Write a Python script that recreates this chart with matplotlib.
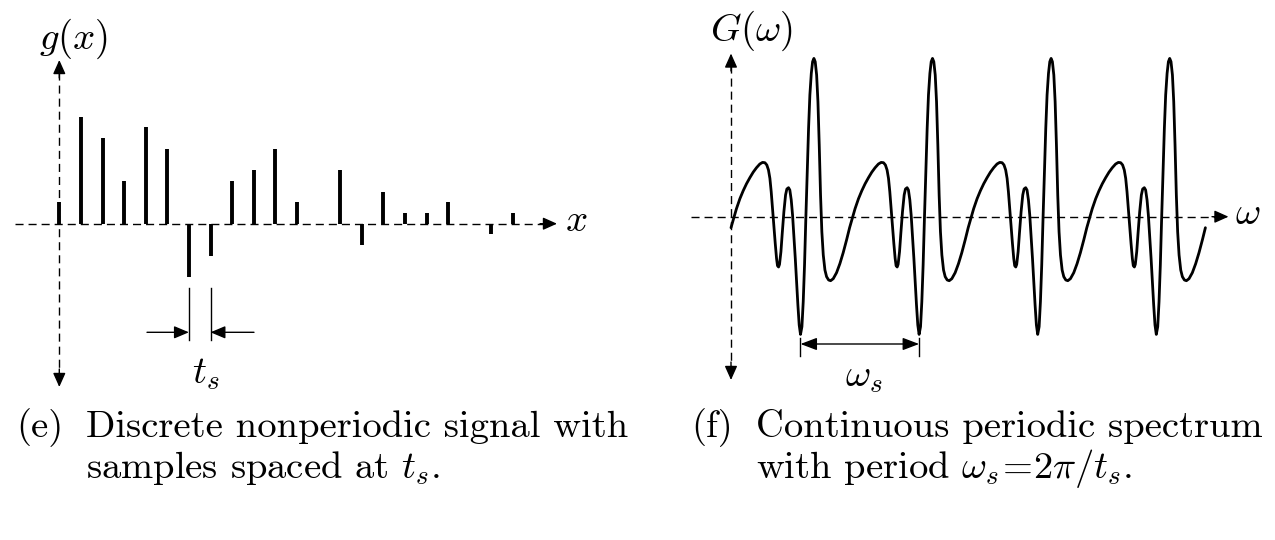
import numpy as np
import matplotlib
matplotlib.use("Agg")
import matplotlib.pyplot as plt

plt.rcParams['mathtext.fontset'] = 'cm'
plt.rcParams['lines.scale_dashes'] = False

# ---------------- data ----------------
# (e) discrete samples g[n] (sample index, amplitude)
sample_index = list(range(22))
sample_values = [2, 10, 8, 4, 9, 7, -5, -3, 4, 5, 7, 2, 0, 5, -2, 3, 1, 1, 2, 0, -1, 1]

# (f) one period of the continuous periodic spectrum, omega in units of omega_s
period_phase = [0.000, 0.032, 0.046, 0.075, 0.103, 0.131, 0.159, 0.187, 0.215, 0.243,
                0.266, 0.286, 0.302, 0.316, 0.328, 0.339, 0.350, 0.361, 0.373, 0.384,
                0.392, 0.401, 0.409, 0.421, 0.432, 0.446, 0.460, 0.471, 0.485, 0.496,
                0.508, 0.519, 0.530, 0.542, 0.553, 0.564, 0.575, 0.586, 0.598, 0.609,
                0.620, 0.631, 0.643, 0.654, 0.665, 0.677, 0.688, 0.699, 0.710, 0.722,
                0.733, 0.744, 0.755, 0.766, 0.778, 0.792, 0.806, 0.823, 0.840, 0.862,
                0.890, 0.918, 0.946, 0.975]
period_values = [-1.1, 0.2, 0.8, 1.8, 2.6, 3.3, 3.9, 4.45, 4.9, 5.27,
                 5.43, 5.4, 5.17, 4.67, 3.83, 2.5, 0.83, -0.83, -2.67, -4.17,
                 -4.9, -5.03, -4.77, -3.5, -1.67, 0.5, 2.17, 2.77, 2.9, 2.67,
                 1.67, 0.17, -1.83, -4.17, -6.5, -8.83, -10.83, -11.77, -11.0, -8.5,
                 -4.83, -0.17, 4.5, 8.83, 12.17, 14.33, 15.5, 15.83, 15.5, 14.17,
                 11.5, 7.17, 2.17, -1.5, -3.83, -5.33, -6.0, -6.33, -6.4, -6.2,
                 -5.6, -4.7, -3.6, -2.3]
n_periods = 4

caption_e = ["Discrete nonperiodic signal with", "samples spaced at $t_s$."]
caption_f = ["Continuous periodic spectrum", r"with period $\omega_s\!=\!2\pi/t_s$."]

# ---------------- figure ----------------
W, H = 1275, 540
fig = plt.figure(figsize=(W / 100, H / 100), dpi=100)

def fx(px):
    return px / W

def fy(py):
    return 1 - py / H

DASH = (0, (5.8, 3.6))
FS = 28
FSC = 27.8

# left axes: pixel box x 0..640, y 0..400
axL = fig.add_axes([0, fy(400), fx(640), 400 / H])
L0x, Ldx, L0y, Ldy = 59.3, 21.6, 223.7, 10.7
def Lx(px): return (px - L0x) / Ldx
def Ly(py): return (L0y - py) / Ldy
axL.set_xlim(Lx(0), Lx(640))
axL.set_ylim(Ly(400), Ly(0))
axL.axis('off')

# right axes: pixel box x 660..1275, y 0..400
axR = fig.add_axes([fx(660), fy(400), fx(615), 400 / H])
R0x, Rdx, R0y, Rdy = 731.0, 118.6, 216.7, 10.0
def Rx(px): return (px - R0x) / Rdx
def Ry(py): return (R0y - py) / Rdy
axR.set_xlim(Rx(660), Rx(1275))
axR.set_ylim(Ry(400), Ry(0))
axR.axis('off')


def head(ax, tip, tail, hl=8.5, hw=3.8):
    ax.annotate('', xy=tip, xytext=tail,
                arrowprops=dict(arrowstyle=f'-|>,head_length={hl},head_width={hw}',
                                mutation_scale=1, lw=1.0, color='k',
                                shrinkA=0, shrinkB=0))


# ---- left panel axes ----
axL.plot([Lx(15), Lx(546)], [0, 0], color='k', lw=1.0, ls=DASH)
head(axL, (Lx(557), 0), (Lx(540), 0))
axL.plot([0, 0], [Ly(72), Ly(378)], color='k', lw=1.0, ls=DASH)
head(axL, (0, Ly(60)), (0, Ly(78)))
head(axL, (0, Ly(387)), (0, Ly(369)))

axL.vlines(sample_index, 0, sample_values, colors='k', lw=2.8)

# t_s marker
for k in (6, 7):
    axL.plot([k, k], [Ly(288), Ly(340)], color='k', lw=1.0)
axL.annotate('', xy=(6, Ly(332.3)), xytext=(Lx(147), Ly(332.3)),
             arrowprops=dict(arrowstyle='-|>,head_length=9,head_width=3.8',
                             mutation_scale=1, lw=1.0, color='k', shrinkA=0, shrinkB=0))
axL.annotate('', xy=(7, Ly(332.3)), xytext=(Lx(254), Ly(332.3)),
             arrowprops=dict(arrowstyle='-|>,head_length=9,head_width=3.8',
                             mutation_scale=1, lw=1.0, color='k', shrinkA=0, shrinkB=0))

fig.text(fx(74), fy(49), '$g(x)$', fontsize=FS, ha='center', va='baseline')
fig.text(fx(576), fy(231), '$x$', fontsize=FS, ha='center', va='baseline')
fig.text(fx(206), fy(383), '$t_s$', fontsize=FS, ha='center', va='baseline')

# ---- right panel ----
axR.plot([Rx(691), Rx(1217)], [0, 0], color='k', lw=1.0, ls=DASH)
head(axR, (Rx(1228.5), 0), (Rx(1212), 0))
axR.plot([0, 0], [Ry(65), Ry(371)], color='k', lw=1.0, ls=DASH)
head(axR, (0, Ry(53.5)), (0, Ry(71)))
head(axR, (0, Ry(380)), (0, Ry(362)))

omega = np.concatenate([np.array(period_phase) + k for k in range(n_periods)] + [[n_periods]])
G = np.concatenate([np.array(period_values)] * n_periods + [[period_values[0]]])
axR.plot(omega, G, color='k', lw=2.0, solid_joinstyle='round', solid_capstyle='round')

# omega_s marker
deep_min = period_phase[int(np.argmin(period_values))]
for k in (deep_min, deep_min + 1):
    axR.plot([k, k], [Ry(338.3), Ry(356)], color='k', lw=1.0)
axR.annotate('', xy=(deep_min + 1, Ry(344)), xytext=(deep_min, Ry(344)),
             arrowprops=dict(arrowstyle='<|-|>,head_length=10,head_width=3.8',
                             mutation_scale=1, lw=1.0, color='k', shrinkA=0, shrinkB=0))

fig.text(fx(752), fy(41), r'$G(\omega)$', fontsize=FS, ha='center', va='baseline')
fig.text(fx(1247.5), fy(224), r'$\omega$', fontsize=FS, ha='center', va='baseline')
fig.text(fx(864), fy(386), r'$\omega_s$', fontsize=FS, ha='center', va='baseline')

# ---- captions ----
B1, B2 = 437, 478
fig.text(fx(16), fy(B1), '(e)', family='cmr10', fontsize=FSC, va='baseline')
fig.text(fx(86), fy(B1), caption_e[0], family='cmr10', fontsize=FSC, va='baseline')
fig.text(fx(86), fy(B2), caption_e[1], family='cmr10', fontsize=FSC, va='baseline')
fig.text(fx(691), fy(B1), '(f)', family='cmr10', fontsize=FSC, va='baseline')
fig.text(fx(756), fy(B1), caption_f[0], family='cmr10', fontsize=FSC, va='baseline')
fig.text(fx(756), fy(B2), caption_f[1], family='cmr10', fontsize=FSC, va='baseline')

fig.savefig('out.png', dpi=100, facecolor='white')
